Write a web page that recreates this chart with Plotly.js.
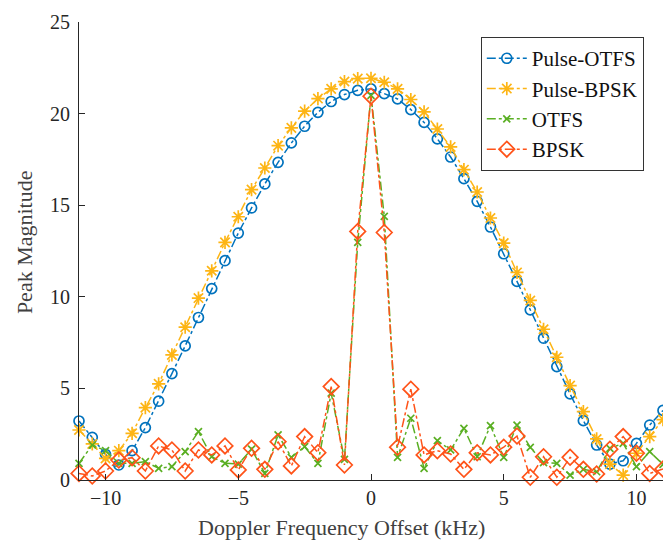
<!DOCTYPE html>
<html>
<head>
<meta charset="utf-8">
<script src="https://cdn.plot.ly/plotly-3.0.1.min.js"></script>
<style>html,body{margin:0;padding:0;background:#fff;}#chart{width:663px;height:545px;}</style>
</head>
<body>
<div id="chart"></div>
<script>
const doppler = [-11,-10.5,-10,-9.5,-9,-8.5,-8,-7.5,-7,-6.5,-6,-5.5,-5,-4.5,-4,-3.5,-3,-2.5,-2,-1.5,-1,-0.5,0,0.5,1,1.5,2,2.5,3,3.5,4,4.5,5,5.5,6,6.5,7,7.5,8,8.5,9,9.5,10,10.5,11];

const pulseOTFS = [3.22,2.33,1.40,0.82,1.60,2.86,4.30,5.81,7.32,8.87,10.45,11.97,13.48,14.85,16.16,17.34,18.40,19.31,20.07,20.66,21.04,21.27,21.35,21.09,20.80,20.22,19.52,18.62,17.63,16.45,15.21,13.81,12.35,10.84,9.29,7.74,6.19,4.70,3.24,1.91,0.87,1.05,2.00,3.00,3.80];

const pulseBPSK = [2.73,1.97,1.18,1.60,2.55,3.95,5.25,6.83,8.34,9.93,11.42,12.97,14.37,15.85,17.03,18.25,19.22,20.13,20.82,21.35,21.75,21.91,21.93,21.71,21.35,20.77,20.09,19.16,18.18,16.94,15.72,14.30,12.93,11.33,9.80,8.23,6.70,5.15,3.73,2.24,0.87,0.27,1.46,2.37,3.30];

const otfs = [0.91,1.91,1.60,0.91,0.91,1.00,0.64,0.73,1.55,2.64,1.27,0.91,0.87,1.68,0.36,2.46,1.24,1.82,0.91,4.74,1.13,12.97,21.00,14.39,1.24,3.37,0.64,2.15,1.64,2.82,1.27,2.97,1.24,3.00,1.78,0.95,0.91,0.27,0.58,0.45,1.73,2.00,0.73,1.55,0.85];

const bpsk = [0.36,0.22,0.49,1.09,1.22,0.49,1.86,1.64,0.49,1.64,1.37,1.86,0.55,1.73,0.58,2.09,0.77,2.37,1.49,5.10,0.82,13.57,20.95,13.51,1.79,4.96,1.37,1.60,1.42,0.58,1.49,1.37,1.79,2.40,0.15,1.27,0.15,1.24,0.58,0.33,1.68,2.37,1.46,0.36,0.60];

const seriesNames = ['Pulse-OTFS','Pulse-BPSK','OTFS','BPSK'];
const xTicks = [-10,-5,0,5,10];
const yTicks = [0,5,10,15,20,25];

const serif = '"Liberation Serif", "DejaVu Serif", serif';

function tr(name, y, color, symbol, size) {
  return {
    type: 'scatter', mode: 'lines+markers', name: name,
    x: doppler, y: y, cliponaxis: false,
    line: {color: color, width: 1.5, dash: 'dashdot'},
    marker: {symbol: symbol, size: size, color: color, line: {color: color, width: 1.7}}
  };
}

const data = [
  tr(seriesNames[0], pulseOTFS, '#0072BD', 'circle-open', 10),
  tr(seriesNames[1], pulseBPSK, '#FDB515', 'asterisk-open', 11),
  tr(seriesNames[2], otfs, '#5AAF23', 'x-thin-open', 7),
  tr(seriesNames[3], bpsk, '#FF5319', 'diamond-open', 12)
];

const axisCommon = {
  showgrid: false, zeroline: false, showline: true, linecolor: '#262626', linewidth: 1,
  ticks: 'inside', ticklen: 6, tickcolor: '#262626', mirror: false,
  tickfont: {family: serif, size: 20, color: '#262626'}
};

const layout = {
  width: 663, height: 545,
  margin: {l: 79, r: 0, t: 22, b: 65},
  paper_bgcolor: '#fff', plot_bgcolor: '#fff',
  showlegend: true,
  legend: {
    x: 0.688, y: 0.967, xanchor: 'left', yanchor: 'top',
    bgcolor: '#fff', bordercolor: '#333', borderwidth: 1,
    font: {family: serif, size: 21, color: '#111'},
    tracegroupgap: 0, itemwidth: 40
  },
  xaxis: Object.assign({}, axisCommon, {range: [-11, 11], tickvals: xTicks}),
  yaxis: Object.assign({}, axisCommon, {range: [0, 25], tickvals: yTicks, ticklabelstandoff: 4}),
  annotations: [
    {text: 'Doppler Frequency Offset (kHz)', xref: 'paper', yref: 'paper', x: 0.449, y: -0.103,
     xanchor: 'center', yanchor: 'middle', showarrow: false,
     font: {family: serif, size: 22, color: '#404040'}},
    {text: 'Peak Magnitude', xref: 'paper', yref: 'paper', x: -0.092, y: 0.52,
     xanchor: 'center', yanchor: 'middle', showarrow: false, textangle: -90,
     font: {family: serif, size: 22, color: '#404040'}}
  ]
};

Plotly.newPlot('chart', data, layout, {displayModeBar: false, staticPlot: true});
</script>
</body>
</html>
